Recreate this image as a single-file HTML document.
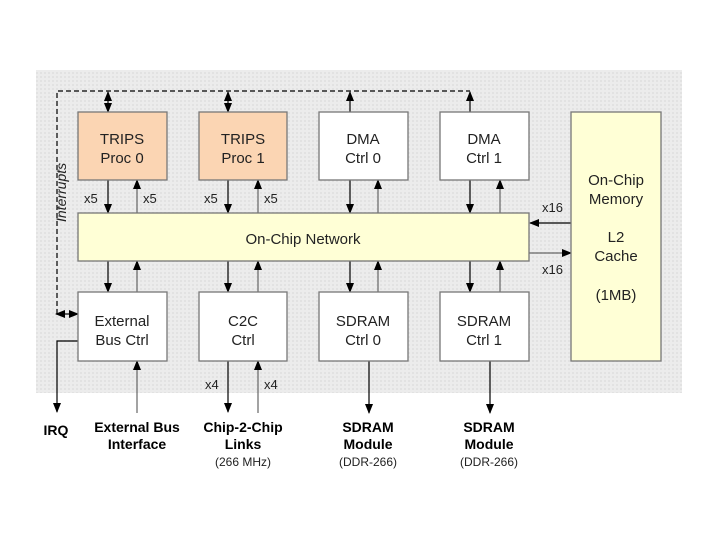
<!DOCTYPE html>
<html><head><style>
body{margin:0;background:#fff;}
svg text{font-family:"Liberation Sans",sans-serif;}
</style></head><body>
<svg width="720" height="540" viewBox="0 0 720 540" xmlns="http://www.w3.org/2000/svg">
<defs>
<pattern id="p" width="4" height="4" patternUnits="userSpaceOnUse"><rect width="4" height="4" fill="#ececec"/><rect width="2" height="2" fill="#e2e2e2"/></pattern>
<marker id="a" markerWidth="10" markerHeight="10" refX="9" refY="5" orient="auto" markerUnits="userSpaceOnUse"><path d="M0,1 L10,5 L0,9Z" fill="#000"/></marker>
</defs>
<rect x="36" y="70" width="646" height="323" fill="url(#p)"/>
<g stroke="#000" stroke-width="1.2" stroke-dasharray="5,3" fill="none">
<path d="M57,314 V91 H470"/>
</g>
<g stroke="#000" stroke-width="1.2" fill="none" marker-end="url(#a)">
<line x1="108" y1="102" x2="108" y2="92"/><line x1="108" y1="102" x2="108" y2="112"/>
<line x1="228" y1="102" x2="228" y2="92"/><line x1="228" y1="102" x2="228" y2="112"/>
<line x1="350" y1="112" x2="350" y2="92"/>
<line x1="470" y1="112" x2="470" y2="92"/>
<line x1="67" y1="314" x2="56" y2="314"/><line x1="67" y1="314" x2="78" y2="314"/>
<line x1="108" y1="180" x2="108" y2="213"/>
<line x1="228" y1="180" x2="228" y2="213"/>
<line x1="350" y1="180" x2="350" y2="213"/>
<line x1="470" y1="180" x2="470" y2="213"/>
<line x1="108" y1="261" x2="108" y2="292"/>
<line x1="228" y1="261" x2="228" y2="292"/>
<line x1="350" y1="261" x2="350" y2="292"/>
<line x1="470" y1="261" x2="470" y2="292"/>
<line x1="571" y1="223" x2="530" y2="223"/>
<path d="M78,341 H57 V412"/>
<line x1="228" y1="361" x2="228" y2="412"/>
<line x1="369" y1="361" x2="369" y2="413"/><line x1="490" y1="361" x2="490" y2="413"/>
</g>
<g stroke="#666" stroke-width="1.2" fill="none" marker-end="url(#a)">
<line x1="137" y1="213" x2="137" y2="180"/>
<line x1="258" y1="213" x2="258" y2="180"/>
<line x1="378" y1="213" x2="378" y2="180"/>
<line x1="500" y1="213" x2="500" y2="180"/>
<line x1="137" y1="292" x2="137" y2="261"/>
<line x1="258" y1="292" x2="258" y2="261"/>
<line x1="378" y1="292" x2="378" y2="261"/>
<line x1="500" y1="292" x2="500" y2="261"/>
<line x1="529" y1="253" x2="571" y2="253"/>
<line x1="137" y1="413" x2="137" y2="361"/>
<line x1="258" y1="413" x2="258" y2="361"/>
</g>
<g stroke="#777" stroke-width="1.3">
<rect x="78" y="112" width="89" height="68" fill="#fbd5b3"/>
<rect x="199" y="112" width="88" height="68" fill="#fbd5b3"/>
<rect x="319" y="112" width="89" height="68" fill="#fff"/>
<rect x="440" y="112" width="89" height="68" fill="#fff"/>
<rect x="78" y="213" width="451" height="48" fill="#ffffd6"/>
<rect x="78" y="292" width="89" height="69" fill="#fff"/>
<rect x="199" y="292" width="88" height="69" fill="#fff"/>
<rect x="319" y="292" width="89" height="69" fill="#fff"/>
<rect x="440" y="292" width="89" height="69" fill="#fff"/>
<rect x="571" y="112" width="90" height="249" fill="#ffffd6"/>
</g>
<g font-size="15" text-anchor="middle" fill="#222">
<text x="122" y="144">TRIPS</text><text x="122" y="163">Proc 0</text>
<text x="243" y="144">TRIPS</text><text x="243" y="163">Proc 1</text>
<text x="363" y="144">DMA</text><text x="363" y="163">Ctrl 0</text>
<text x="484" y="144">DMA</text><text x="484" y="163">Ctrl 1</text>
<text x="303" y="244">On-Chip Network</text>
<text x="122" y="326">External</text><text x="122" y="345">Bus Ctrl</text>
<text x="243" y="326">C2C</text><text x="243" y="345">Ctrl</text>
<text x="363" y="326">SDRAM</text><text x="363" y="345">Ctrl 0</text>
<text x="484" y="326">SDRAM</text><text x="484" y="345">Ctrl 1</text>
<text x="616" y="185">On-Chip</text><text x="616" y="204">Memory</text>
<text x="616" y="242">L2</text><text x="616" y="261">Cache</text>
<text x="616" y="300">(1MB)</text>
</g>
<g font-size="13" fill="#222">
<text x="84" y="203">x5</text><text x="143" y="203">x5</text>
<text x="204" y="203">x5</text><text x="264" y="203">x5</text>
<text x="542" y="212">x16</text><text x="542" y="274">x16</text>
<text x="205" y="389">x4</text><text x="264" y="389">x4</text>
<text transform="translate(66,222) rotate(-90)" font-style="italic" font-size="14">Interrupts</text>
</g>
<g font-size="14" font-weight="bold" text-anchor="middle" fill="#000">
<text x="56" y="435">IRQ</text>
<text x="137" y="432">External Bus</text><text x="137" y="449">Interface</text>
<text x="243" y="432">Chip-2-Chip</text><text x="243" y="449">Links</text>
<text x="368" y="432">SDRAM</text><text x="368" y="449">Module</text>
<text x="489" y="432">SDRAM</text><text x="489" y="449">Module</text>
</g>
<g font-size="12" text-anchor="middle" fill="#222">
<text x="243" y="466">(266 MHz)</text>
<text x="368" y="466">(DDR-266)</text>
<text x="489" y="466">(DDR-266)</text>
</g>
</svg>
</body></html>
